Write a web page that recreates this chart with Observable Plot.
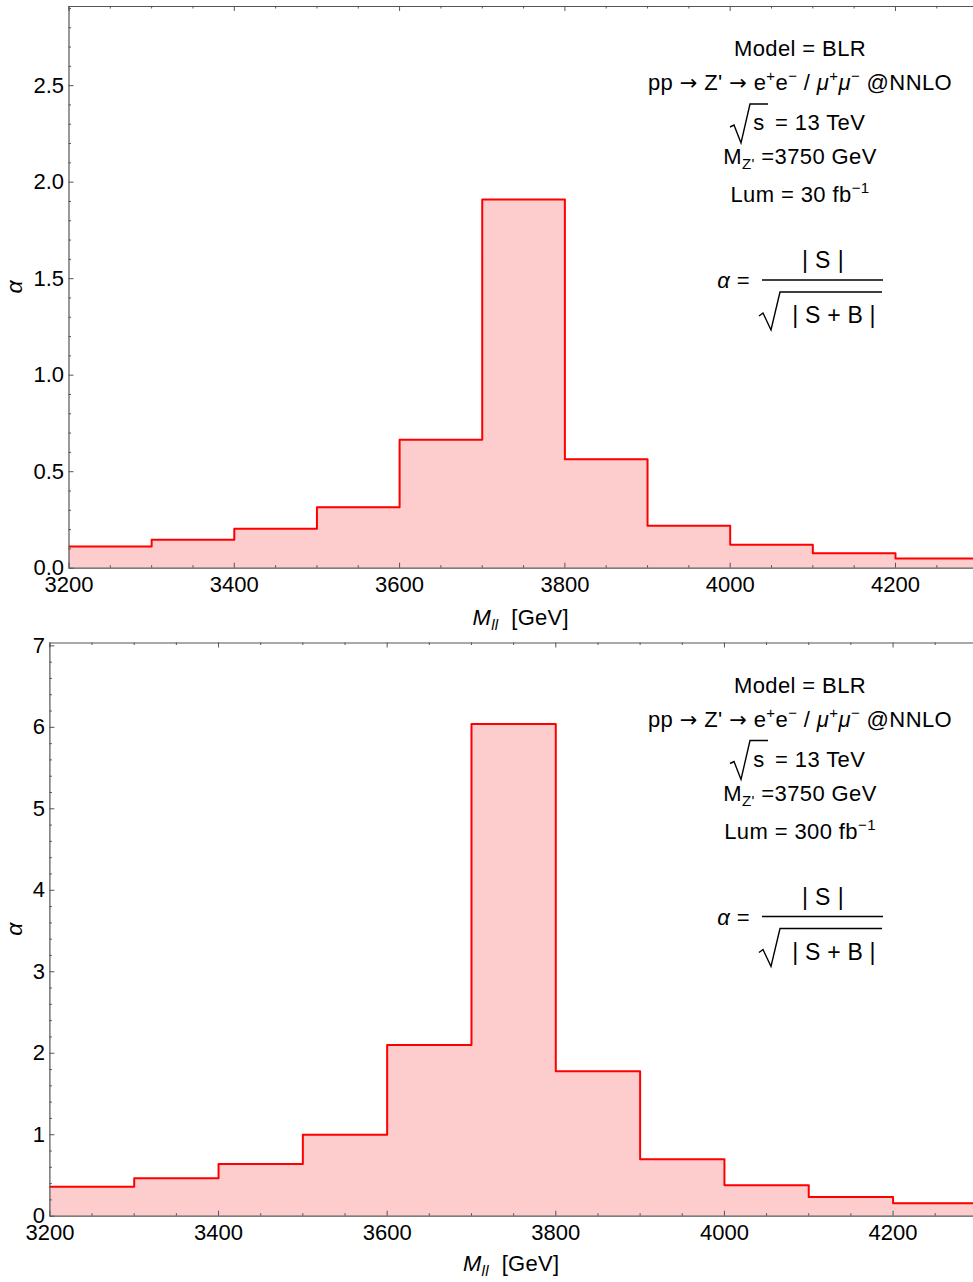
<!DOCTYPE html>
<html><head><meta charset="utf-8">
<script src="https://cdn.jsdelivr.net/npm/d3@7"></script>
<script src="https://cdn.jsdelivr.net/npm/@observablehq/plot@0.6"></script>
<style>
body{margin:0;background:#fff;}
#c{width:973px;}
#c svg{display:block;}
</style></head><body><div id="c"></div>
<script>
// ---- data ----
const binStarts = [3200,3300,3400,3500,3600,3700,3800,3900,4000,4100,4200];
const binWidth = 100;
const alpha30  = [0.112,0.148,0.204,0.316,0.665,1.91,0.565,0.22,0.121,0.078,0.05];
const alpha300 = [0.36,0.466,0.64,1.0,2.10,6.04,1.78,0.70,0.38,0.237,0.16];
const xTickLabels = [3200,3400,3600,3800,4000,4200];
const yTicks30  = [0,0.5,1,1.5,2,2.5];
const yTicks300 = [0,1,2,3,4,5,6,7];
const lumLabels = ["30","300"];

const FONT = "Liberation Sans, Arial, Helvetica, sans-serif";
const axisCol = "#555";

function rich(g, x, y, segs, anchor="middle", size=22, ls=0.4) {
  const t = g.append("text").attr("x", x).attr("y", y)
    .attr("text-anchor", anchor).attr("font-size", size)
    .attr("letter-spacing", ls)
    .attr("fill", "#000").attr("font-family", FONT);
  let cur = 0;
  for (const s of segs) {
    const shift = s.sup ? -9 : s.sub ? 5 : 0;
    const ts = t.append("tspan").text(s.t).attr("dy", shift - cur);
    if (s.sup || s.sub) ts.attr("font-size", 15);
    if (s.it) ts.attr("font-style", "italic");
    if (s.arrow) ts.attr("font-family", "DejaVu Sans").attr("font-size", 21);
    cur = shift;
  }
  return t;
}

function panel({values, height, mt, mb, ml, xMax, yMax, yMajor, yStep, yFmt, lum, xlabOff}) {
  const W = 973;
  const ph = height - mt - mb, pw = W - ml;
  const steps = binStarts.map((x, i) => ({x, y: values[i]}));
  steps.push({x: binStarts[binStarts.length-1] + binWidth, y: values[values.length-1]});
  const xMinor = d3.range(3200, 4300, 50).filter(v => !xTickLabels.includes(v));
  const yMinor = d3.range(0, yMax, yStep).map(v => +v.toFixed(3)).filter(v => !yMajor.some(m => Math.abs(m - v) < 1e-6));
  const svg = Plot.plot({
    width: W, height, marginTop: mt, marginBottom: mb, marginLeft: ml, marginRight: 0,
    style: {fontFamily: FONT, fontSize: "22px", color: "#000", background: "#fff", overflow: "visible"},
    x: {domain: [3200, xMax], axis: null},
    y: {domain: [0, yMax], axis: null},
    marks: [
      Plot.areaY(steps, {x: "x", y: "y", curve: "step-after", fill: "#fdcccc", clip: true}),
      Plot.lineY(steps, {x: "x", y: "y", curve: "step-after", stroke: "#ff0000", strokeWidth: 2, clip: true}),
      Plot.ruleY([0], {stroke: axisCol, strokeWidth: 1.2}),
      Plot.ruleY([yMax], {stroke: axisCol, strokeWidth: 1.2}),
      Plot.ruleX([3200], {stroke: axisCol, strokeWidth: 1.2}),
      Plot.ruleX(xTickLabels, {stroke: axisCol, insetTop: ph - 5}),
      Plot.ruleX(xMinor, {stroke: axisCol, insetTop: ph - 2.5}),
      Plot.ruleX(xTickLabels, {stroke: axisCol, insetBottom: ph - 5}),
      Plot.ruleX(xMinor, {stroke: axisCol, insetBottom: ph - 2.5}),
      Plot.ruleY(yMajor, {stroke: axisCol, insetRight: pw - 5}),
      Plot.ruleY(yMinor, {stroke: axisCol, insetRight: pw - 2.5}),
      Plot.axisX(xTickLabels, {tickSize: 0, tickPadding: 8, fontSize: 22, tickFormat: d => String(d), label: null}),
      Plot.axisY(yMajor, {tickSize: 0, tickPadding: 5, fontSize: 22, tickFormat: yFmt, label: null})
    ]
  });
  const s = d3.select(svg);
  // axis labels
  const base = height - mb;
  rich(s, ml + pw / 2, base + xlabOff, [{t: "M", it: true}, {t: "ll", sub: true, it: true}, {t: "\u00a0\u00a0[GeV]"}], "middle", 22, 0.3);
  s.append("text").attr("transform", `translate(22,${mt + ph / 2}) rotate(-90)`)
    .attr("text-anchor", "middle").attr("font-size", 23).attr("font-style", "italic")
    .attr("font-family", FONT).text("\u03b1");
  // annotation block
  const g = s.append("g").attr("transform", `translate(800,${mt})`);
  rich(g, 0, 50, [{t: "Model = BLR"}]);
  rich(g, 0, 84, [{t: "pp "}, {t: "\u2192", arrow: true}, {t: " Z' "}, {t: "\u2192", arrow: true}, {t: " e"}, {t: "+", sup: true}, {t: "e"}, {t: "\u2212", sup: true},
                  {t: " / "}, {t: "\u03bc", it: true}, {t: "+", sup: true}, {t: "\u03bc", it: true}, {t: "\u2212", sup: true}, {t: " @NNLO"}]);
  g.append("path").attr("d", "M-70,121 L-66,119 L-59,137 L-50,98 L-32,98")
    .attr("fill", "none").attr("stroke", "#000").attr("stroke-width", 1.4);
  rich(g, -41, 124, [{t: "s"}]);
  rich(g, -25, 124, [{t: "= 13 TeV"}], "start");
  rich(g, 0, 158, [{t: "M"}, {t: "Z'", sub: true}, {t: " =3750 GeV"}]);
  rich(g, 0, 196, [{t: `Lum = ${lum} fb`}, {t: "\u22121", sup: true}]);
  // formula
  rich(g, 23, 262, [{t: "| S |"}], "middle", 23, 0.4);
  g.append("line").attr("x1", -38).attr("x2", 83).attr("y1", 274).attr("y2", 274)
    .attr("stroke", "#000").attr("stroke-width", 1.4);
  rich(g, -50, 282, [{t: "\u03b1", it: true}, {t: " ="}], "end", 22, 0.4);
  g.append("path").attr("d", "M-41,310 L-37,307 L-29,324 L-20,286 L82,286")
    .attr("fill", "none").attr("stroke", "#000").attr("stroke-width", 1.4);
  rich(g, 34, 317, [{t: "| S + B |"}], "middle", 23, 0.2);
  return svg;
}

const c = document.getElementById("c");
c.appendChild(panel({values: alpha30, height: 632, mt: 6, mb: 64.3, ml: 68.5, xMax: 4294.4, yMax: 2.91,
  yMajor: yTicks30, yStep: 0.1, yFmt: d3.format(".1f"), lum: lumLabels[0], xlabOff: 57}));
c.appendChild(panel({values: alpha300, height: 650, mt: 10.5, mb: 66.3, ml: 49.4, xMax: 4295.4, yMax: 7.035,
  yMajor: yTicks300, yStep: 0.2, yFmt: d => String(d), lum: lumLabels[1], xlabOff: 55}));
</script></body></html>
